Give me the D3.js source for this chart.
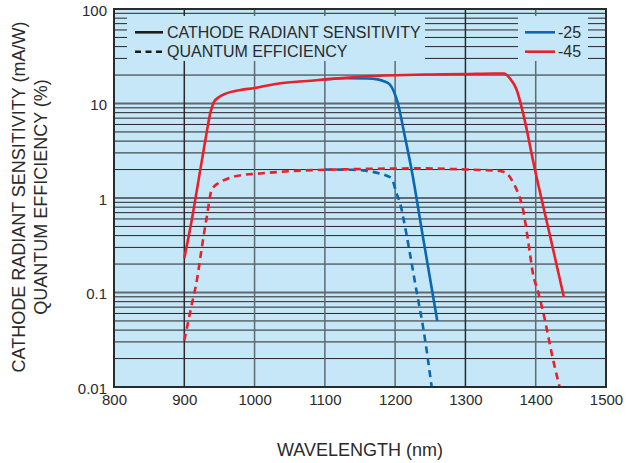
<!DOCTYPE html>
<html>
<head>
<meta charset="utf-8">
<script src="https://cdn.jsdelivr.net/npm/d3@7"></script>
<style>
  html, body { margin: 0; padding: 0; background: #ffffff; }
  svg { display: block; }
  text { font-family: "Liberation Sans", Arial, Helvetica, sans-serif; fill: #2a2a2a; }
</style>
</head>
<body>
<svg id="chart" width="626" height="463"></svg>
<script>
// ---------- data ----------
const xTicks = [800, 900, 1000, 1100, 1200, 1300, 1400, 1500];
const yTicks = [0.01, 0.1, 1, 10, 100];
const yTickLabels = ["0.01", "0.1", "1", "10", "100"];

// -45 cathode radiant sensitivity (mA/W)
const wl45S  = [900, 910, 920, 930, 937, 942, 948, 960, 980, 1000, 1020, 1040, 1060, 1080, 1100, 1150, 1200, 1250, 1300, 1340, 1355, 1363, 1373, 1382, 1399, 1420, 1440];
const val45S = [0.23, 0.55, 1.5, 4.1, 7.9, 10.3, 11.5, 12.8, 13.9, 14.6, 15.6, 16.5, 17.0, 17.4, 18.0, 19.2, 19.9, 20.3, 20.5, 20.8, 20.8, 18.5, 13.9, 7.9, 1.98, 0.41, 0.09];

// -25 cathode radiant sensitivity (mA/W)
const wl25S  = [1100, 1130, 1160, 1175, 1184, 1192, 1198, 1204, 1213, 1223, 1240, 1260];
const val25S = [18.0, 18.5, 18.4, 18.0, 17.2, 16.0, 13.5, 10.0, 4.8, 2.06, 0.37, 0.05];

// -45 quantum efficiency (%)
const wl45Q  = [900, 910, 918, 925, 932, 939, 948, 960, 970, 985, 1008, 1055, 1126, 1200, 1226, 1297, 1340, 1349, 1357, 1363, 1368, 1373, 1382, 1389, 1396, 1404, 1411, 1425, 1434];
const val45Q = [0.031, 0.071, 0.136, 0.3, 0.63, 1.22, 1.43, 1.58, 1.68, 1.76, 1.82, 1.93, 2.01, 2.05, 2.06, 2.01, 1.95, 1.93, 1.85, 1.68, 1.45, 1.22, 0.75, 0.36, 0.16, 0.098, 0.06, 0.019, 0.01];

// -25 quantum efficiency (%)
const wl25Q  = [1100, 1140, 1160, 1178, 1188, 1195, 1202, 1207, 1214, 1221, 1231, 1240, 1252];
const val25Q = [2.0, 1.99, 1.93, 1.82, 1.72, 1.61, 1.12, 0.88, 0.5, 0.26, 0.098, 0.042, 0.01];

const legendTypes = ["CATHODE RADIANT SENSITIVITY", "QUANTUM EFFICIENCY"];
const legendSeries = ["-25", "-45"];
const seriesColors = ["#0a67b2", "#e8202b"];

// ---------- layout ----------
const svg = d3.select("#chart");
const L = 114, R = 606, T = 9, B = 387;
const bg = "#c6e7f8";

const x = d3.scaleLinear().domain([800, 1500]).range([L, R]);
const y = d3.scaleLog().domain([0.01, 100]).range([B, T]);

svg.append("rect").attr("x", L).attr("y", T).attr("width", R - L).attr("height", B - T).attr("fill", bg);

// grid: minor horizontal lines
const minorVals = [];
for (let e = -2; e < 2; e++) {
  for (let m = 2; m <= 9; m++) minorVals.push(m * Math.pow(10, e));
}
const grid = svg.append("g");
grid.selectAll("line.minor").data(minorVals).enter().append("line")
  .attr("x1", L).attr("x2", R)
  .attr("y1", d => y(d)).attr("y2", d => y(d))
  .attr("stroke", "#262626").attr("stroke-width", 1);
grid.selectAll("line.major").data(yTicks.slice(1, -1)).enter().append("line")
  .attr("x1", L).attr("x2", R)
  .attr("y1", d => y(d)).attr("y2", d => y(d))
  .attr("stroke", "#5e6b72").attr("stroke-width", 2);
grid.selectAll("line.vert").data(xTicks.slice(1, -1)).enter().append("line")
  .attr("x1", d => x(d)).attr("x2", d => x(d))
  .attr("y1", T).attr("y2", B)
  .attr("stroke", d => (d === 900 || d === 1300) ? "#2a2a2a" : "#5e6b72")
  .attr("stroke-width", 1.5);

// legend boxes (cover the grid)
svg.append("rect").attr("x", 127).attr("y", 16).attr("width", 298).attr("height", 45).attr("fill", bg);
svg.append("rect").attr("x", 518).attr("y", 16).attr("width", 70).attr("height", 45).attr("fill", bg);

// curves
const line = d3.line()
  .x(d => x(d[0]))
  .y(d => y(d[1]))
  .curve(d3.curveMonotoneX);
const zip = (a, b) => a.map((v, i) => [v, b[i]]);

const curves = [
  { pts: zip(wl25Q, val25Q), color: seriesColors[0], dash: "7,5" },
  { pts: zip(wl25S, val25S), color: seriesColors[0], dash: null },
  { pts: zip(wl45Q, val45Q), color: seriesColors[1], dash: "7,5" },
  { pts: zip(wl45S, val45S), color: seriesColors[1], dash: null }
];
const cg = svg.append("g");
curves.forEach(c => {
  cg.append("path").datum(c.pts)
    .attr("d", line)
    .attr("fill", "none")
    .attr("stroke", c.color)
    .attr("stroke-width", 2.6)
    .attr("stroke-dasharray", c.dash)
    .attr("stroke-linejoin", "round");
});

// frame
svg.append("rect").attr("x", L).attr("y", T).attr("width", R - L).attr("height", B - T)
  .attr("fill", "none").attr("stroke", "#2b2b2b").attr("stroke-width", 2);

// axis labels
const xAxis = d3.axisBottom(x).tickValues(xTicks).tickSize(0).tickPadding(0).tickFormat(d3.format("d"));
const gx = svg.append("g").attr("transform", `translate(0,${B})`).call(xAxis);
gx.select(".domain").remove();
gx.selectAll("text").attr("dy", null).attr("y", 18).style("font-size", "15px")
  .style("font-family", "'Liberation Sans', Arial, sans-serif").attr("fill", "#2a2a2a");

const yAxis = d3.axisLeft(y).tickValues(yTicks).tickSize(0).tickPadding(0)
  .tickFormat((d, i) => yTickLabels[i]);
const gy = svg.append("g").attr("transform", `translate(${L - 7},0)`).call(yAxis);
gy.select(".domain").remove();
gy.selectAll("text").attr("dy", "0.42em").style("font-size", "15px")
  .style("font-family", "'Liberation Sans', Arial, sans-serif").attr("fill", "#2a2a2a");

// axis titles
svg.append("text").attr("x", 360).attr("y", 456).attr("text-anchor", "middle")
  .style("font-size", "18px").text("WAVELENGTH (nm)");
svg.append("text").attr("transform", "translate(25,197) rotate(-90)").attr("text-anchor", "middle")
  .style("font-size", "18px").text("CATHODE RADIANT SENSITIVITY (mA/W)");
svg.append("text").attr("transform", "translate(47,197) rotate(-90)").attr("text-anchor", "middle")
  .style("font-size", "18px").text("QUANTUM EFFICIENCY (%)");

// legend contents
const lg = svg.append("g");
const legY = [32.3, 51.7];
legendTypes.forEach((t, i) => {
  lg.append("line").attr("x1", 135).attr("x2", 163).attr("y1", legY[i]).attr("y2", legY[i])
    .attr("stroke", "#1a1a1a").attr("stroke-width", 2.6)
    .attr("stroke-dasharray", i === 1 ? "6,4.5" : null);
  lg.append("text").attr("x", 167).attr("y", legY[i]).attr("dy", "0.36em")
    .style("font-size", "16px").text(t);
});
legendSeries.forEach((t, i) => {
  lg.append("line").attr("x1", 525).attr("x2", 555).attr("y1", legY[i]).attr("y2", legY[i])
    .attr("stroke", seriesColors[i]).attr("stroke-width", 2.6);
  lg.append("text").attr("x", 558).attr("y", legY[i]).attr("dy", "0.36em")
    .style("font-size", "16px").text(t);
});
</script>
</body>
</html>
